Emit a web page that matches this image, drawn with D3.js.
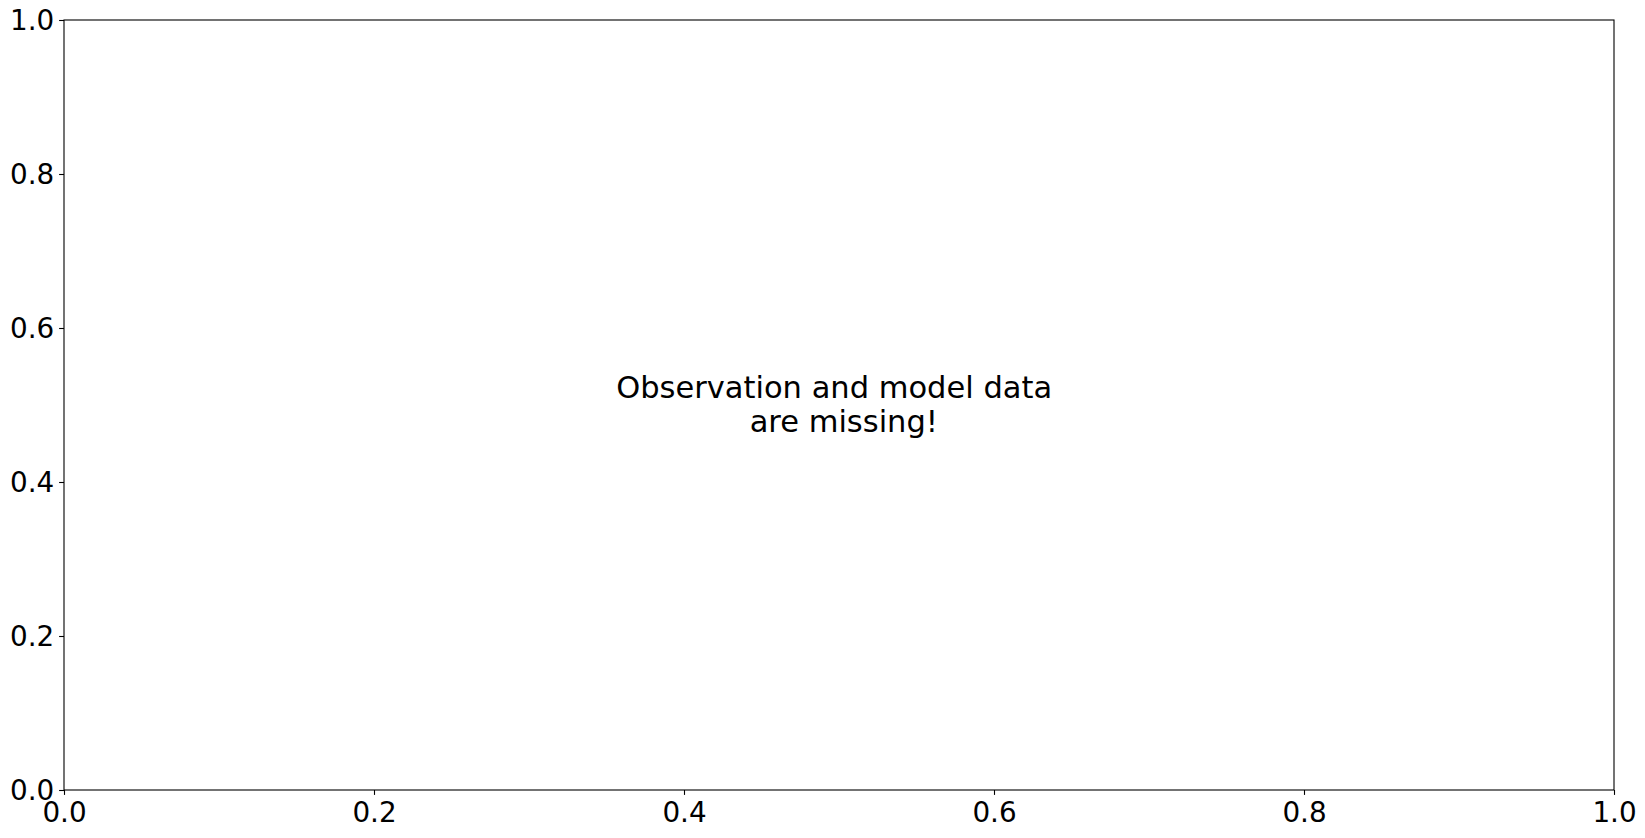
<!DOCTYPE html>
<html><head><meta charset="utf-8">
<script src="https://cdn.jsdelivr.net/npm/d3@7"></script>
<style>body{margin:0;background:#fff}svg{display:block}text{font-family:"DejaVu Sans",sans-serif}</style>
</head><body><svg id="c" width="1645" height="838"></svg>
<script>
const xTicks = [0, 0.2, 0.4, 0.6, 0.8, 1.0];
const yTicks = [0, 0.2, 0.4, 0.6, 0.8, 1.0];
const messageLines = ["Observation and model data ", " are missing!"];

const W = 1645, H = 838;
const m = {left: 64, right: 1614, top: 20, bottom: 790};
const svg = d3.select("#c");
const x = d3.scaleLinear().domain([0, 1]).range([m.left, m.right]);
const y = d3.scaleLinear().domain([0, 1]).range([m.bottom, m.top]);
const fs = 27.8, msgFs = 30.5;

const xAxis = svg.append("g").attr("transform", `translate(0,${m.bottom})`)
  .call(d3.axisBottom(x).tickValues(xTicks).tickFormat(d3.format(".1f")).tickSizeInner(4.9).tickSizeOuter(0).tickPadding(4.9));
const yAxis = svg.append("g").attr("transform", `translate(${m.left},0)`)
  .call(d3.axisLeft(y).tickValues(yTicks).tickFormat(d3.format(".1f")).tickSizeInner(4.9).tickSizeOuter(0).tickPadding(4.9));
[xAxis, yAxis].forEach(g => {
  g.select(".domain").remove();
  g.selectAll(".tick line").attr("stroke", "#000").attr("stroke-width", 1.1);
  g.selectAll(".tick text").attr("fill", "#000").style("font-size", fs + "px").style("font-family", "DejaVu Sans");
});
xAxis.selectAll(".tick text").attr("dy", null).attr("y", 31.6);
yAxis.selectAll(".tick text").attr("dy", null).attr("y", 0).attr("dominant-baseline", "central");

svg.append("rect").attr("x", m.left).attr("y", m.top)
  .attr("width", m.right - m.left).attr("height", m.bottom - m.top)
  .attr("fill", "none").attr("stroke", "#000").attr("stroke-width", 1.1);

const cx = x(0.5), cy = y(0.5);
svg.append("g").selectAll("text").data(messageLines).join("text")
  .attr("x", cx).attr("y", (d, i) => cy - 7 + i * 33.5)
  .attr("text-anchor", "middle")
  .style("white-space", "pre")
  .style("font-size", msgFs + "px").attr("fill", "#000")
  .text(d => d);
</script></body></html>
